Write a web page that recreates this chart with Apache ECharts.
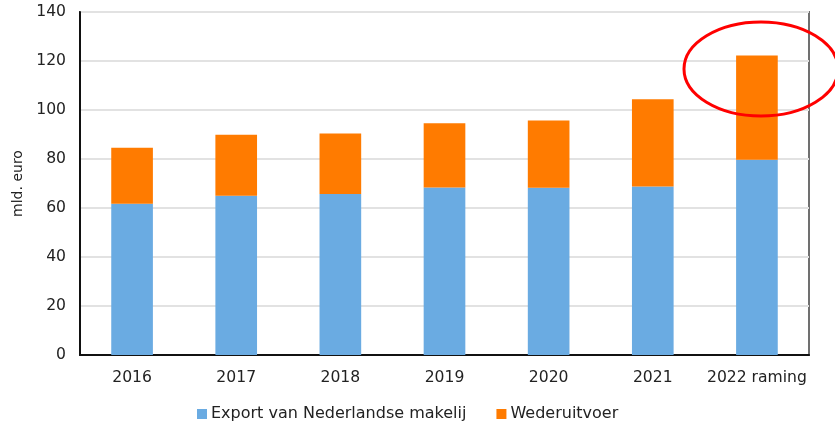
<!DOCTYPE html>
<html>
<head>
<meta charset="utf-8">
<script src="https://cdn.jsdelivr.net/npm/echarts@6/dist/echarts.min.js"></script>
<style>
  html, body { margin: 0; padding: 0; background: #fff; }
  #chart { width: 835px; height: 425px; }
</style>
</head>
<body>
<div id="chart"></div>
<script>
var years = ['2016', '2017', '2018', '2019', '2020', '2021', '2022 raming'];
var eigenExport = [61.7, 65.0, 65.7, 68.4, 68.3, 68.8, 79.7];
var wederuitvoer = [22.9, 24.9, 24.7, 26.2, 27.4, 35.6, 42.5];

var blauw = '#6aabe2';
var oranje = '#ff7b00';
var font = 'DejaVu Sans, Verdana, sans-serif';

var myChart = echarts.init(document.getElementById('chart'));

myChart.setOption({
    animation: false,
    textStyle: { fontFamily: font },
    grid: {
        left: 80, right: 26, top: 12, bottom: 70,
        show: true,
        borderColor: '#707070',
        borderWidth: 2
    },
    legend: {
        bottom: -2,
        left: 192,
        itemWidth: 10,
        itemHeight: 10,
        itemGap: 30,
        icon: 'rect',
        textStyle: { fontSize: 16, color: '#222', fontFamily: font, padding: [0, 0, 0, -1] },
        data: ['Export van Nederlandse makelij', 'Wederuitvoer']
    },
    xAxis: {
        type: 'category',
        data: years,
        axisLine: { lineStyle: { color: '#111', width: 2 } },
        axisTick: { show: false },
        axisLabel: { interval: 0, fontSize: 15.6, color: '#222', margin: 15, fontFamily: font }
    },
    yAxis: {
        type: 'value',
        min: 0, max: 140, interval: 20,
        name: 'mld. euro',
        nameLocation: 'middle',
        nameGap: 50,
        nameTextStyle: { fontSize: 14, color: '#222', fontFamily: font },
        axisLine: { show: true, lineStyle: { color: '#111', width: 2 } },
        axisTick: { show: false },
        axisLabel: { fontSize: 15.6, color: '#222', margin: 14, fontFamily: font },
        splitLine: { lineStyle: { color: '#e2e2e2', width: 2 } }
    },
    series: [
        {
            name: 'Export van Nederlandse makelij',
            type: 'bar',
            stack: 'totaal',
            barWidth: '40%',
            itemStyle: { color: blauw },
            data: eigenExport
        },
        {
            name: 'Wederuitvoer',
            type: 'bar',
            stack: 'totaal',
            barWidth: '40%',
            itemStyle: { color: oranje },
            data: wederuitvoer
        }
    ],
    graphic: [
        {
            type: 'ellipse',
            z: 100,
            shape: { cx: 761, cy: 69, rx: 77, ry: 47 },
            style: { fill: 'none', stroke: '#ff0000', lineWidth: 3 }
        }
    ]
});
</script>
</body>
</html>
